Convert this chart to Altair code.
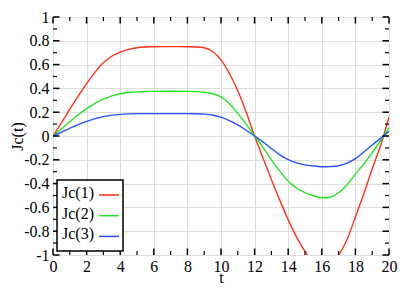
import altair as alt
import pandas as pd

# ---- data ----
t_vals = [0, 0.5, 1, 1.5, 2, 2.5, 3, 3.5, 4, 4.5, 5, 5.5, 6, 6.5, 7, 7.5, 8, 8.5, 9, 9.5,
          10, 10.5, 11, 11.5, 12, 12.5, 13, 13.5, 14, 14.5, 15, 15.5, 16, 16.5, 17, 17.5,
          18, 18.5, 19, 19.5, 20]
jc1 = [0, 0.11, 0.225, 0.335, 0.44, 0.535, 0.615, 0.67, 0.705, 0.728, 0.742, 0.748, 0.75,
       0.751, 0.751, 0.751, 0.75, 0.748, 0.742, 0.71, 0.64, 0.525, 0.38, 0.2, 0, -0.185,
       -0.365, -0.54, -0.705, -0.85, -0.97, -1.06, -1.1, -1.08, -1.0, -0.87, -0.68,
       -0.485, -0.275, -0.08, 0.16]
jc2 = [0, 0.06, 0.12, 0.178, 0.23, 0.275, 0.31, 0.337, 0.355, 0.365, 0.371, 0.374, 0.375,
       0.376, 0.376, 0.376, 0.375, 0.373, 0.368, 0.355, 0.328, 0.27, 0.19, 0.1, 0, -0.095,
       -0.2, -0.295, -0.38, -0.437, -0.475, -0.502, -0.518, -0.515, -0.477, -0.41, -0.32,
       -0.235, -0.14, -0.04, 0.07]
jc3 = [0, 0.032, 0.065, 0.096, 0.123, 0.146, 0.163, 0.175, 0.182, 0.186, 0.188, 0.188,
       0.188, 0.188, 0.188, 0.188, 0.188, 0.187, 0.184, 0.176, 0.158, 0.13, 0.093, 0.048,
       0, -0.05, -0.105, -0.158, -0.198, -0.226, -0.243, -0.252, -0.258, -0.257, -0.25,
       -0.228, -0.19, -0.135, -0.075, -0.02, 0.04]
series_names = ["Jc(1)", "Jc(2)", "Jc(3)"]
series_colors = ["#ff3217", "#22e622", "#2850ff"]

x_major = [0, 2, 4, 6, 8, 10, 12, 14, 16, 18, 20]
x_minor = [1, 3, 5, 7, 9, 11, 13, 15, 17, 19]
y_major = [-1, -0.8, -0.6, -0.4, -0.2, 0, 0.2, 0.4, 0.6, 0.8, 1]
y_minor = [-0.9, -0.7, -0.5, -0.3, -0.1, 0.1, 0.3, 0.5, 0.7, 0.9]

W, H = 336, 238
FONT = "Liberation Serif"

df = pd.DataFrame({
    "t": t_vals * 3,
    "value": jc1 + jc2 + jc3,
    "series": [n for n in series_names for _ in t_vals],
})

xscale = alt.Scale(domain=[0, 20], nice=False, zero=False)
yscale = alt.Scale(domain=[-1, 1], nice=False, zero=False)

xaxis = alt.Axis(values=x_major, grid=True, gridColor="#dddddd", gridWidth=1,
                 ticks=False, domain=False, labelFont=FONT, labelFontSize=16,
                 labelColor="black", labelPadding=3, labelFlush=False, labelOverlap=False,
                 title="t", titleFont=FONT, titleFontSize=16, titleFontWeight="normal",
                 titleColor="black", titleY=27, titleBaseline="alphabetic")
yaxis = alt.Axis(values=y_major, grid=True, gridColor="#dddddd", gridWidth=1,
                 ticks=False, domain=False, labelFont=FONT, labelFontSize=16,
                 labelColor="black", labelPadding=4, labelFlush=False, labelOverlap=False,
                 labelExpr="toString(round(datum.value*10)/10)",
                 title="Jc(t)", titleFont=FONT, titleFontSize=16, titleFontWeight="normal",
                 titleColor="black", titleAngle=270, titleX=-31, titleY=H / 2,
                 titleAlign="center", titleBaseline="alphabetic")

lines = alt.Chart(df).mark_line(clip=True, interpolate="catmull-rom", strokeWidth=1.4).encode(
    x=alt.X("t:Q", scale=xscale, axis=xaxis),
    y=alt.Y("value:Q", scale=yscale, axis=yaxis),
    color=alt.Color("series:N", scale=alt.Scale(domain=series_names, range=series_colors),
                    legend=None),
)

layers = [lines]

# tick marks pointing inward on all four sides
def xticks(vals, length, sw):
    d = pd.DataFrame({"v": vals})
    bot = alt.Chart(d).mark_rule(color="black", strokeWidth=sw).encode(
        x=alt.X("v:Q", scale=xscale, axis=xaxis), y=alt.value(H), y2=alt.value(H - length))
    top = alt.Chart(d).mark_rule(color="black", strokeWidth=sw).encode(
        x=alt.X("v:Q", scale=xscale, axis=xaxis), y=alt.value(0), y2=alt.value(length))
    return [bot, top]

def yticks(vals, length, sw):
    d = pd.DataFrame({"v": vals})
    left = alt.Chart(d).mark_rule(color="black", strokeWidth=sw).encode(
        y=alt.Y("v:Q", scale=yscale, axis=yaxis), x=alt.value(0), x2=alt.value(length))
    right = alt.Chart(d).mark_rule(color="black", strokeWidth=sw).encode(
        y=alt.Y("v:Q", scale=yscale, axis=yaxis), x=alt.value(W), x2=alt.value(W - length))
    return [left, right]

layers += xticks(x_major, 6.5, 1.5) + xticks(x_minor, 4, 1.2)
layers += yticks(y_major, 6.5, 1.5) + yticks(y_minor, 4, 1.2)

# legend box
box = alt.Chart(alt.Data(values=[{}])).mark_rect(
    fill="white", stroke="black", strokeWidth=1.5).encode(
    x=alt.value(4), x2=alt.value(70), y=alt.value(163), y2=alt.value(234))
layers.append(box)
for i, (name, col) in enumerate(zip(series_names, series_colors)):
    txt = alt.Chart(alt.Data(values=[{"label": name}])).mark_text(
        align="left", baseline="middle", font=FONT, fontSize=16, color="black").encode(
        x=alt.value(9), y=alt.value(176 + 20.7 * i), text="label:N")
    sym = alt.Chart(alt.Data(values=[{}])).mark_rule(color=col, strokeWidth=1.5).encode(
        x=alt.value(46), x2=alt.value(66), y=alt.value(178 + 20.7 * i))
    layers += [txt, sym]

chart = alt.layer(*layers).properties(
    width=W, height=H,
    autosize=alt.AutoSizeParams(type="none"),
    padding={"left": 45, "top": 9, "right": 14, "bottom": 29},
    background="white",
).configure_view(stroke="black", strokeWidth=1.8).configure_axis(
    labelFont=FONT, titleFont=FONT, labelFontSize=16, titleFontSize=16
).configure(font=FONT)

chart.save("out.html", embed_options={"renderer": "svg", "actions": False})
